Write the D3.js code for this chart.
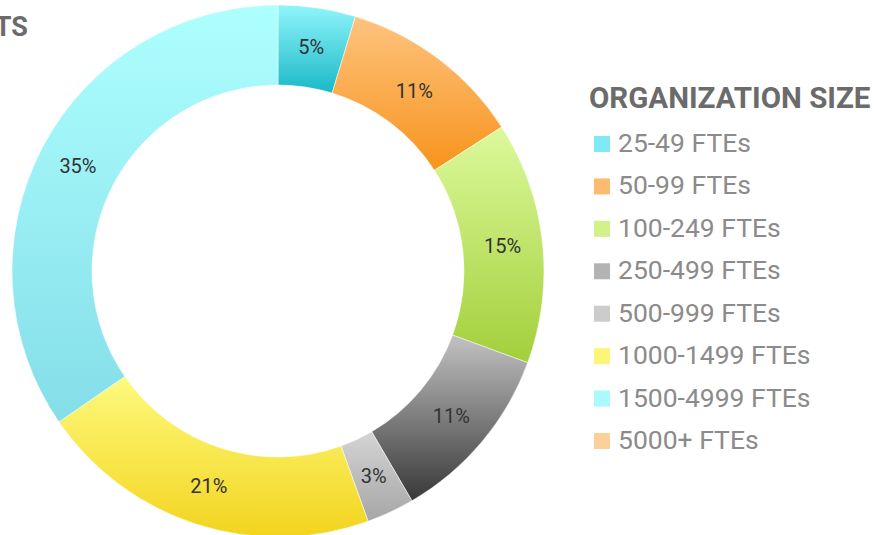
<!DOCTYPE html>
<html>
<head>
<meta charset="utf-8">
<script src="https://cdn.jsdelivr.net/npm/d3@7"></script>
<style>
  body { margin: 0; background: #fff; }
  text { font-family: Roboto, "Noto Sans", sans-serif; }
</style>
</head>
<body>
<div id="chart-area"></div>
<script>
// organization size shares (percent)
let sizes = ["25-49 FTEs", "50-99 FTEs", "100-249 FTEs", "250-499 FTEs",
             "500-999 FTEs", "1000-1499 FTEs", "1500-4999 FTEs", "5000+ FTEs"];
let shares = [4.7, 11.2, 14.7, 11.0, 2.9, 20.9, 34.6, 0];
let topColors = ["#90f5fc", "#fec37f", "#dcf99c", "#c2c2c2", "#d4d4d4", "#fdfa7e", "#aefffe", "#fdd09a"];
let bottomColors = ["#1ab8c6", "#f7941c", "#a3cf3a", "#383838", "#a6a6a6", "#f3d41e", "#84dde8", "#fdd09a"];
let swatchColors = ["#80e9f6", "#fdbb6f", "#d4f08a", "#b3b3b3", "#cccccc", "#fdf576", "#aaf9fc", "#fdd09a"];

let width = 895, height = 535;
let cx = 278, cy = 271;
let outerR = 266, innerR = 186;

let svg = d3.select("#chart-area")
            .append("svg")
            .attr("width", width)
            .attr("height", height);

let defs = svg.append("defs");
sizes.forEach(function(s, i){
    let grad = defs.append("linearGradient")
        .attr("id", "grad" + i)
        .attr("x1", 0).attr("y1", 0)
        .attr("x2", 0).attr("y2", 1);
    grad.append("stop").attr("offset", "0%").attr("stop-color", topColors[i]);
    grad.append("stop").attr("offset", "100%").attr("stop-color", bottomColors[i]);
});

// cut-off heading on the left
svg.append("text")
    .text("RESPONDENTS")
    .attr("x", 28)
    .attr("y", 36)
    .attr("text-anchor", "end")
    .attr("font-size", "27px")
    .attr("font-weight", "bold")
    .attr("fill", "#6b6b6b");

let pie = d3.pie().sort(null).value(function(d){ return d; });
let arc = d3.arc().innerRadius(innerR).outerRadius(outerR);

let g = svg.append("g")
    .attr("transform", "translate(" + cx + "," + cy + ")");

let slices = pie(shares).map(function(d, i){ d.index = i; return d; })
    .filter(function(d){ return d.data > 0; });

g.selectAll("path")
    .data(slices)
    .enter()
    .append("path")
        .attr("d", arc)
        .attr("fill", function(d){ return "url(#grad" + d.index + ")"; })
        .attr("stroke", "#fff")
        .attr("stroke-width", 0.5);

g.selectAll("text.pct")
    .data(slices)
    .enter()
    .append("text")
        .attr("class", "pct")
        .attr("transform", function(d){ return "translate(" + arc.centroid(d) + ")"; })
        .attr("text-anchor", "middle")
        .attr("dy", "0.35em")
        .attr("font-size", "20px")
        .attr("fill", "#333")
        .text(function(d){ return d3.format(".0f")(d.data) + "%"; });

// legend
let legend = svg.append("g")
    .attr("transform", "translate(589, 0)");

legend.append("text")
    .text("ORGANIZATION SIZE")
    .attr("x", 0)
    .attr("y", 108)
    .attr("font-size", "29.5px")
    .attr("font-weight", "bold")
    .attr("fill", "#6b6b6b");

let rowY = d3.scalePoint()
    .domain(sizes)
    .range([152, 449]);

let rows = legend.selectAll("g.row")
    .data(sizes)
    .enter()
    .append("g")
        .attr("class", "row")
        .attr("transform", function(d){ return "translate(0," + rowY(d) + ")"; });

rows.append("rect")
    .attr("x", 5)
    .attr("y", -16)
    .attr("width", 16)
    .attr("height", 16)
    .attr("fill", function(d, i){ return swatchColors[i]; });

rows.append("text")
    .attr("x", 29)
    .attr("y", 0)
    .attr("font-size", "26.5px")
    .attr("fill", "#8c8a8a")
    .text(function(d){ return d; });
</script>
</body>
</html>
